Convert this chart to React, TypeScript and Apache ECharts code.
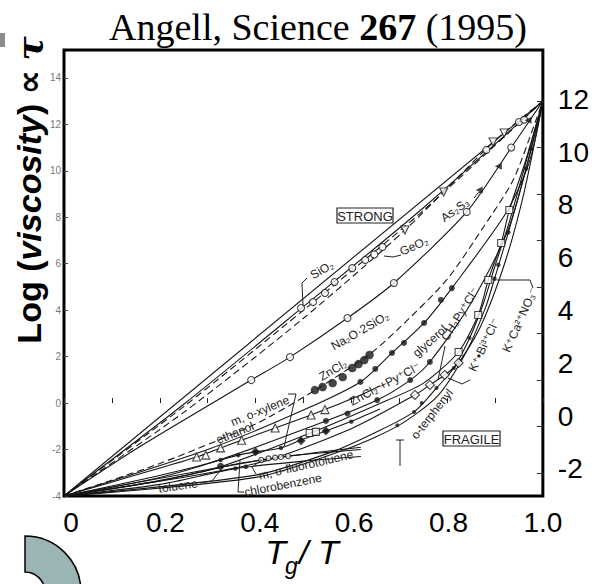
import React, { useEffect, useRef } from "react";
import * as echarts from "echarts";

// ---- axis tick values / labels ----
const xLabelValues = [0, 0.2, 0.4, 0.6, 0.8, 1.0];
const xLabelTexts = ["0", "0.2", "0.4", "0.6", "0.8", "1.0"];
const leftLabelValues = [-4, -2, 0, 2, 4, 6, 8, 10, 12, 14];
const rightLabelValues = [-2, 0, 2, 4, 6, 8, 10, 12];
const rightTickValues = [-3, -1, 1, 3, 5, 7, 9, 11, 13];

// ---- curves (x = Tg/T, y = log viscosity / poise) ----
const arrhenius = [[0, -4], [1, 13]];
const sio2Line = [[0, -4], [0.25, -0.05], [0.5, 4.15], [0.75, 8.4], [1, 13]];
const sio2Pts = [[0.495, 4.09], [0.52, 4.35], [0.545, 4.74], [0.565, 5.21], [0.95, 12.1], [0.961, 12.2]];
const geo2Line = [[0, -4], [0.25, -0.15], [0.5, 4.0], [0.75, 8.28], [1, 13]];
const geo2Pts = [[0.602, 5.81], [0.629, 6.16], [0.648, 6.4], [0.665, 6.72], [0.882, 10.9]];
const triLine = [[0, -4], [0.25, -0.4], [0.5, 3.65], [0.712, 7.45], [0.9, 11.3], [1, 13]];
const triPts = [[0.712, 7.45], [0.793, 9.09], [0.896, 11.24], [0.919, 11.63]];
const na2oLine = [[0, -4], [0.157, -1.89], [0.391, 0.99], [0.472, 1.98], [0.592, 3.66], [0.689, 5.17], [0.841, 8.23], [0.934, 11.0], [1, 13]];
const na2oPts = [[0.391, 0.99], [0.472, 1.98], [0.592, 3.66], [0.689, 5.17], [0.841, 8.23], [0.934, 11.0]];
const as2s3Pts = [[0.867, 9.17], [0.907, 10.2], [0.969, 12.18]];
const zncl2Line = [[0, -4], [0.2, -2.6], [0.4, -0.9], [0.524, 0.55], [0.638, 2.1], [0.696, 3.15], [0.799, 5.3], [0.876, 7.58], [0.938, 9.6], [0.986, 12.2], [1, 13]];
const zncl2Pts = [[0.524, 0.56], [0.54, 0.69], [0.561, 0.86], [0.582, 1.12], [0.602, 1.51], [0.615, 1.68], [0.627, 1.85], [0.638, 2.07]];
const glycerolLine = [[0, -4], [0.3, -2.0], [0.5, -0.3], [0.619, 0.91], [0.685, 2.16], [0.752, 3.45], [0.81, 4.95], [0.923, 8.18], [0.971, 10.33], [1, 13]];
const glycerolPts = [[0.619, 0.91], [0.65, 1.47], [0.685, 2.16], [0.71, 2.59], [0.752, 3.45], [0.787, 4.44], [0.81, 4.95]];
const pyClLine = [[0, -4], [0.3, -2.6], [0.547, -0.77], [0.654, 0.13], [0.723, 0.99], [0.764, 1.77], [0.85, 4.3], [0.93, 7.6], [1, 13]];
const pyClPts = [[0.547, -0.77], [0.592, -0.45], [0.654, 0.13], [0.723, 0.99], [0.764, 1.77]];
const ch3pyLine = [[0, -4], [0.4, -2.6], [0.6, -1.1], [0.733, 0.35], [0.764, 0.78], [0.795, 1.21], [0.824, 1.73], [0.87, 3.3], [0.92, 6.0], [0.96, 9.0], [1, 13]];
const ch3pyPts = [[0.733, 0.35], [0.764, 0.78], [0.795, 1.21], [0.824, 1.73]];
const kbiLine = [[0, -4], [0.3, -2.9], [0.513, -1.3], [0.65, -0.1], [0.75, 0.85], [0.824, 2.2], [0.865, 3.79], [0.886, 5.3], [0.913, 6.89], [0.93, 8.31], [0.965, 10.5], [1, 13]];
const kbiPts = [[0.513, -1.29], [0.526, -1.24], [0.824, 2.2], [0.865, 3.79], [0.886, 5.3], [0.913, 6.89], [0.93, 8.31]];
const terphenylLine = [[0, -4], [0.4, -3.1], [0.56, -2.1], [0.648, -1.29], [0.731, -0.38], [0.778, 0.65], [0.814, 1.51], [0.847, 2.8], [0.876, 4.3], [0.9, 5.9], [0.93, 7.8], [0.965, 10.4], [1, 13]];
const terphenylPts = [[0.696, -0.95], [0.731, -0.38], [0.747, 0.0], [0.778, 0.65], [0.814, 1.51], [0.847, 2.8]];
const kcaLine = [[0, -4], [0.4, -3.2], [0.6, -1.9], [0.7, -0.95], [0.78, 0.3], [0.84, 2.2], [0.88, 4.1], [0.899, 5.35], [0.928, 7.35], [0.965, 10.1], [1, 13]];
const kcaPts = [[0.899, 5.35], [0.907, 5.95], [0.928, 7.35], [0.965, 10.1], [0.975, 10.95]];
const ethanolLine = [[0, -4], [0.15, -3.1], [0.277, -2.32], [0.327, -1.93], [0.371, -1.6], [0.441, -1.07], [0.516, -0.51], [0.545, -0.28], [0.62, 0.35], [0.66, 0.75]];
const ethanolPts = [[0.277, -2.32], [0.296, -2.24], [0.327, -1.93], [0.371, -1.6], [0.441, -1.07], [0.516, -0.51], [0.545, -0.28]];
const xyleneLine = [[0, -4], [0.2, -3.2], [0.327, -2.45], [0.364, -2.24], [0.4, -2.1], [0.453, -1.93], [0.495, -1.59], [0.547, -1.2], [0.6, -0.78], [0.66, -0.25]];
const xylenePts = [[0.327, -2.45], [0.364, -2.24], [0.4, -2.1], [0.453, -1.93], [0.495, -1.59], [0.547, -1.2], [0.6, -0.8]];
const xyleneBig = [[0.4, -2.1], [0.495, -1.62], [0.547, -1.2]];
const fluoroLine = [[0, -4], [0.25, -3.05], [0.412, -2.45], [0.468, -2.28], [0.55, -2.12], [0.62, -2.0]];
const fluoroPts = [[0.412, -2.45], [0.427, -2.38], [0.441, -2.35], [0.453, -2.32], [0.468, -2.28]];
const tolueneLine = [[0, -4], [0.2, -3.35], [0.36, -2.62], [0.5, -2.2], [0.62, -1.9]];
const toluenePts = [[0.327, -2.72]];
const chloroLine = [[0, -4], [0.2, -3.5], [0.358, -2.82], [0.5, -2.5], [0.62, -2.3]];
const chloroPts = [[0.358, -2.82], [0.38, -2.74]];

const INK = "#161616";
const SANS = "Liberation Sans, Arial, DejaVu Sans, sans-serif";

function lineS(name: string, data: number[][], dashed = false) {
  return {
    type: "line", name, data, smooth: 0.25,
    showSymbol: false, symbol: "none", silent: true, z: 2,
    lineStyle: { color: INK, width: 1.1, type: dashed ? [7, 4] : "solid" },
  };
}
function markS(name: string, data: number[][], symbol: string, size: number, open: boolean, rotate = 0) {
  return {
    type: "scatter", name, data, symbol, symbolSize: size, symbolRotate: rotate, silent: true, z: 3,
    itemStyle: open ? { color: "#fff", borderColor: INK, borderWidth: 1.1 } : { color: INK },
  };
}

const curveLabels = [
  { t: "SiO₂", x: 322, y: 270, r: 30 },
  { t: "GeO₂", x: 414, y: 246, r: 24 },
  { t: "As₂S₃", x: 455, y: 210, r: 36 },
  { t: "Na₂O·2SiO₂", x: 360, y: 331, r: 30 },
  { t: "ZnCl₂", x: 333, y: 370, r: 30 },
  { t: "ZnCl₂ +Py⁺Cl⁻", x: 385, y: 384, r: 28 },
  { t: "glycerol", x: 430, y: 341, r: 42 },
  { t: "CH₃Py⁺Cl⁻", x: 460, y: 314, r: 58 },
  { t: "K⁺•Bi³⁺Cl⁻", x: 484, y: 345, r: 65 },
  { t: "K⁺Ca²⁺NO₃⁻", x: 520, y: 320, r: 66 },
  { t: "o-terphenyl", x: 432, y: 414, r: 52 },
  { t: "m, o-xylene", x: 260, y: 411, r: 22 },
  { t: "ethanol", x: 235, y: 433, r: 22 },
  { t: "m, o-fluorotoluene", x: 306, y: 465, r: 13 },
  { t: "toluene", x: 178, y: 486, r: 8 },
  { t: "chlorobenzene", x: 283, y: 485, r: 11 },
];
const leaders = [
  [[307, 278], [302, 283], [303, 306]],
  [[401, 255], [393, 257], [384, 256]],
  [[474, 198], [478, 193], [483, 191]],
  [[288, 394], [296, 394], [284, 447]],
  [[200, 483], [212, 481], [222, 468]],
  [[240, 460], [238, 492], [244, 492]],
  [[256, 474], [252, 467], [262, 460]],
  [[445, 346], [438, 380]],
  [[448, 378], [462, 384], [470, 380]],
  [[497, 280], [530, 280], [533, 288]],
  [[400, 440], [400, 466]],
  [[396, 440], [404, 440]],
];

export default function App() {
  const ref = useRef<HTMLDivElement>(null);
  useEffect(() => {
    if (!ref.current) return;
    const chart = echarts.init(ref.current, undefined, { renderer: "svg" });
    const series: any[] = [
      lineS("Arrhenius", arrhenius),
      lineS("SiO2", sio2Line),
      lineS("GeO2", geo2Line, true),
      lineS("dashed triangles", triLine, true),
      lineS("Na2O·2SiO2", na2oLine),
      lineS("ZnCl2", zncl2Line, true),
      lineS("glycerol", glycerolLine),
      lineS("ZnCl2+Py+Cl-", pyClLine),
      lineS("CH3Py+Cl-", ch3pyLine),
      lineS("K+Bi3+Cl-", kbiLine),
      lineS("o-terphenyl", terphenylLine),
      lineS("K+Ca2+NO3-", kcaLine),
      lineS("ethanol", ethanolLine),
      lineS("m,o-xylene", xyleneLine),
      lineS("m,o-fluorotoluene", fluoroLine),
      lineS("toluene", tolueneLine),
      lineS("chlorobenzene", chloroLine),
      markS("SiO2 pts", sio2Pts, "circle", 7, true),
      markS("GeO2 pts", geo2Pts, "circle", 7, true),
      markS("tri pts", triPts, "triangle", 8, true, 180),
      markS("Na2O pts", na2oPts, "circle", 7, true),
      markS("As2S3 pts", as2s3Pts, "triangle", 7, false, 90),
      markS("ZnCl2 pts", zncl2Pts, "circle", 8.5, false),
      markS("glycerol pts", glycerolPts, "circle", 6, false),
      markS("PyCl pts", pyClPts, "circle", 6, false),
      markS("CH3Py pts", ch3pyPts, "diamond", 9, true),
      markS("KBi pts", kbiPts, "rect", 7, true),
      markS("terphenyl pts", terphenylPts, "circle", 4, false),
      markS("KCa pts", kcaPts, "circle", 4.5, false),
      markS("ethanol pts", ethanolPts, "triangle", 8, true),
      markS("xylene pts", xylenePts, "circle", 4.5, false),
      markS("xylene big", xyleneBig, "diamond", 9, false),
      markS("fluoro pts", fluoroPts, "circle", 5, true),
      markS("toluene pts", toluenePts, "circle", 7, false),
      markS("chloro pts", chloroPts, "circle", 4.5, false),
    ];
    const graphics: any[] = [
      {
        type: "text", x: 318, y: 27, z: 10,
        style: {
          text: "{a|Angell, Science }{b|267}{a| (1995)}",
          align: "center", verticalAlign: "middle", textAlign: "center", textVerticalAlign: "middle",
          rich: {
            a: { fontFamily: "Liberation Serif, Times New Roman, serif", fontSize: 38, fill: "#000" },
            b: { fontFamily: "Liberation Serif, Times New Roman, serif", fontSize: 38, fontWeight: "bold", fill: "#000" },
          },
        },
      },
      {
        type: "text", x: 29, y: 190, rotation: Math.PI / 2, z: 10,
        style: {
          text: "{a|Log (}{b|viscosity}{a|) ∝ }{c|τ}",
          align: "center", verticalAlign: "middle", textAlign: "center", textVerticalAlign: "middle",
          rich: {
            a: { fontFamily: SANS, fontSize: 34, fontWeight: "bold", fill: "#000" },
            b: { fontFamily: SANS, fontSize: 34, fontWeight: "bold", fontStyle: "italic", fill: "#000" },
            c: { fontFamily: "DejaVu Serif, serif", fontSize: 36, fontWeight: "bold", fontStyle: "italic", fill: "#000" },
          },
        },
      },
      { type: "text", x: 286, y: 552, z: 10, style: { text: "T", fontFamily: SANS, fontSize: 34, fontStyle: "italic", fill: "#000", align: "right", verticalAlign: "middle", textAlign: "right", textVerticalAlign: "middle" } },
      { type: "text", x: 285, y: 566, z: 10, style: { text: "g", fontFamily: SANS, fontSize: 23, fontStyle: "italic", fill: "#000", align: "left", verticalAlign: "middle", textAlign: "left", textVerticalAlign: "middle" } },
      { type: "text", x: 299, y: 552, z: 10, style: { text: "/ T", fontFamily: SANS, fontSize: 34, fontStyle: "italic", fill: "#000", align: "left", verticalAlign: "middle", textAlign: "left", textVerticalAlign: "middle" } },
      { type: "sector", z: 10, shape: { cx: 25, cy: 592, r: 56, r0: 20, startAngle: -Math.PI / 2, endAngle: 0, clockwise: true }, style: { fill: "#9bb5b5", stroke: "#000", lineWidth: 1.5 } },
      { type: "rect", z: 10, shape: { x: 0, y: 33, width: 5, height: 14 }, style: { fill: "#8a8a8a" } },
      { type: "rect", z: 10, shape: { x: 337, y: 208, width: 56, height: 15 }, style: { fill: "#fff", stroke: "#222", lineWidth: 1.2 } },
      { type: "text", x: 365, y: 216, z: 11, style: { text: "STRONG", fontFamily: SANS, fontSize: 13, fill: "#222", align: "center", verticalAlign: "middle", textAlign: "center", textVerticalAlign: "middle" } },
      { type: "rect", z: 10, shape: { x: 443, y: 431, width: 57, height: 15 }, style: { fill: "#fff", stroke: "#222", lineWidth: 1.2 } },
      { type: "text", x: 471.5, y: 439, z: 11, style: { text: "FRAGILE", fontFamily: SANS, fontSize: 13, fill: "#222", align: "center", verticalAlign: "middle", textAlign: "center", textVerticalAlign: "middle" } },
    ];
    curveLabels.forEach((l) => {
      graphics.push({
        type: "text", x: l.x, y: l.y, rotation: (l.r * Math.PI) / 180, z: 9,
        style: { text: l.t, fontFamily: SANS, fontSize: 12, fill: "#222", align: "center", verticalAlign: "middle", textAlign: "center", textVerticalAlign: "middle" },
      });
    });
    leaders.forEach((pts) => {
      graphics.push({ type: "polyline", z: 9, shape: { points: pts }, style: { stroke: "#222", lineWidth: 1, fill: "none" } });
    });

    chart.setOption({
      animation: false,
      backgroundColor: "#fff",
      grid: { left: 64, right: 45, top: 50, bottom: 88, show: true, borderColor: "#000", borderWidth: 3, backgroundColor: "transparent" },
      xAxis: [
        {
          type: "value", position: "bottom", min: 0, max: 1, interval: 0.1,
          axisLine: { show: false }, splitLine: { show: false }, axisLabel: { show: false },
          axisTick: { show: true, inside: true, length: 5, lineStyle: { color: "#222", width: 1 } },
        },
        {
          type: "value", position: "bottom", min: -0.015, max: 1,
          axisLine: { show: false }, splitLine: { show: false }, axisTick: { show: false },
          axisLabel: {
            customValues: xLabelValues, fontSize: 28, color: "#000", fontFamily: SANS, margin: 12,
            formatter: (v: number) => {
              const i = xLabelValues.findIndex((u) => Math.abs(u - v) < 1e-6);
              return i >= 0 ? xLabelTexts[i] : "";
            },
          },
        },
      ],
      yAxis: [
        {
          type: "value", position: "left", min: -4, max: 15.2,
          axisLine: { show: false }, splitLine: { show: false },
          axisTick: { show: true, inside: true, length: 4, customValues: leftLabelValues, lineStyle: { color: "#444" } },
          axisLabel: { customValues: leftLabelValues, color: "#777", fontSize: 10, margin: 3, fontFamily: SANS },
        },
        {
          type: "value", position: "right", min: -3.03, max: 13.87,
          axisLine: { show: false }, splitLine: { show: false }, axisTick: { show: false },
          axisLabel: { customValues: rightLabelValues, fontSize: 28, color: "#000", fontFamily: SANS, margin: 15 },
        },
        {
          type: "value", position: "right", min: -4, max: 15.2,
          axisLine: { show: false }, splitLine: { show: false }, axisLabel: { show: false },
          axisTick: { show: true, inside: true, length: 6, customValues: rightTickValues, lineStyle: { color: "#333" } },
        },
      ],
      series: series.map((s) => ({ ...s, xAxisIndex: 0, yAxisIndex: 0 })),
      graphic: { elements: graphics },
    });
    return () => chart.dispose();
  }, []);
  return <div ref={ref} style={{ position: "fixed", left: 0, top: 0, width: 592, height: 584 }} />;
}
